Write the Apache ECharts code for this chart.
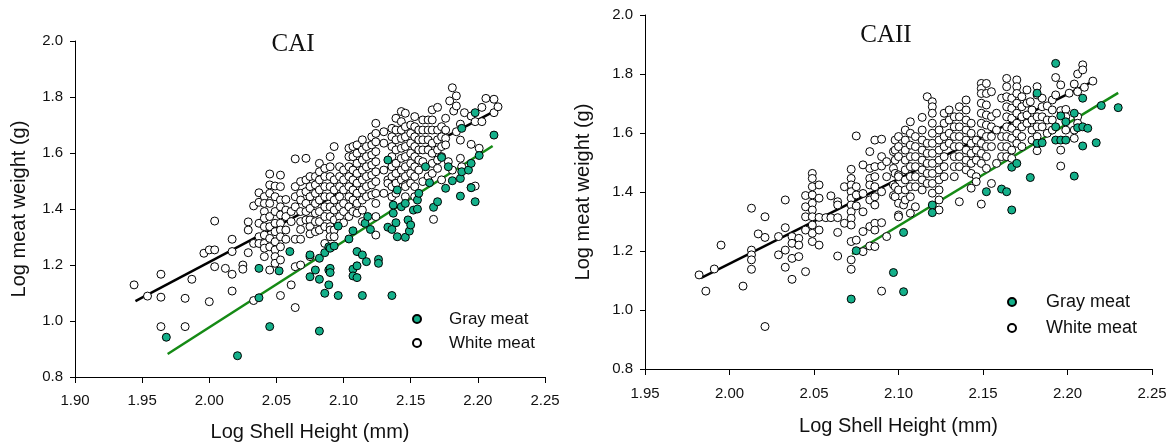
<!DOCTYPE html>
<html>
<head>
<meta charset="utf-8">
<script src="https://cdn.jsdelivr.net/npm/echarts@6/dist/echarts.min.js"></script>
<style>
  html, body { margin: 0; padding: 0; background: #fff; }
  #chart { width: 1172px; height: 444px; }
</style>
</head>
<body>
<div id="chart"></div>
<script>
// Each row: [log shell height, log meat weight, log meat weight, ...]
// (scallops of the same shell height share one row)

// ---- CAI ----
const caiWhite = [
  [1.944, 1.129], [1.954, 1.089], [1.964, 1.167, 1.085, 0.980], [1.982, 1.081, 0.980],
  [1.987, 1.149], [1.996, 1.242], [2.000, 1.254, 1.069], [2.004, 1.357, 1.254, 1.194],
  [2.012, 1.188], [2.017, 1.292, 1.248, 1.167, 1.107], [2.025, 1.200, 1.185],
  [2.029, 1.354, 1.325, 1.244], [2.033, 1.411, 1.277, 1.073],
  [2.037, 1.458, 1.424, 1.349, 1.301, 1.277],
  [2.041, 1.444, 1.420, 1.391, 1.367, 1.337, 1.307, 1.277, 1.260, 1.230],
  [2.045, 1.525, 1.486, 1.456, 1.420, 1.373, 1.337, 1.295, 1.265, 1.182],
  [2.049, 1.482, 1.444, 1.391, 1.349, 1.319, 1.283, 1.254, 1.230, 1.206],
  [2.053, 1.521, 1.480, 1.432, 1.408, 1.379, 1.349, 1.325, 1.301, 1.265, 1.218, 1.091],
  [2.057, 1.434, 1.396, 1.373, 1.325, 1.292],
  [2.061, 1.391, 1.355, 1.129],
  [2.064, 1.579, 1.480, 1.444, 1.408, 1.292, 1.194, 1.048],
  [2.068, 1.498, 1.456, 1.432, 1.391, 1.355, 1.327, 1.292, 1.200],
  [2.072, 1.581, 1.504, 1.462, 1.420, 1.391, 1.361],
  [2.075, 1.516, 1.480, 1.444, 1.402, 1.361, 1.337, 1.311, 1.230],
  [2.079, 1.516, 1.486, 1.456, 1.420, 1.385, 1.355, 1.319],
  [2.082, 1.563, 1.533, 1.504, 1.468, 1.432, 1.391, 1.355, 1.325],
  [2.086, 1.545, 1.516, 1.480, 1.444, 1.408, 1.373, 1.337, 1.277],
  [2.090, 1.587, 1.551, 1.516, 1.480, 1.444, 1.408, 1.373, 1.337, 1.325, 1.301],
  [2.093, 1.623, 1.504, 1.468, 1.432, 1.396, 1.361, 1.325, 1.301],
  [2.097, 1.551, 1.516, 1.480, 1.444, 1.408, 1.373, 1.349],
  [2.100, 1.539, 1.504, 1.468, 1.420, 1.391, 1.351],
  [2.104, 1.617, 1.587, 1.551, 1.516, 1.480, 1.444, 1.408, 1.373],
  [2.107, 1.623, 1.587, 1.539, 1.504, 1.468, 1.432, 1.391],
  [2.110, 1.629, 1.599, 1.563, 1.527, 1.492, 1.456, 1.420, 1.385],
  [2.114, 1.647, 1.611, 1.575, 1.539, 1.504, 1.468, 1.432, 1.396, 1.355],
  [2.117, 1.623, 1.587, 1.551, 1.516, 1.480, 1.444],
  [2.121, 1.658, 1.629, 1.593, 1.557, 1.521, 1.486, 1.450],
  [2.124, 1.706, 1.670, 1.640, 1.605, 1.569, 1.533, 1.498, 1.456, 1.420, 1.373, 1.307],
  [2.130, 1.676, 1.635, 1.539, 1.456],
  [2.133, 1.504, 1.492],
  [2.136, 1.688, 1.658, 1.623, 1.587, 1.551, 1.516, 1.480, 1.444],
  [2.139, 1.724, 1.682, 1.647, 1.611, 1.563, 1.527, 1.492, 1.456],
  [2.143, 1.748, 1.712, 1.682, 1.652, 1.617, 1.581, 1.539, 1.504],
  [2.146, 1.742, 1.694, 1.658, 1.623, 1.587, 1.551, 1.516, 1.486, 1.480, 1.444],
  [2.150, 1.700, 1.670, 1.635, 1.599, 1.563, 1.527, 1.492],
  [2.153, 1.730, 1.694, 1.658, 1.623, 1.587, 1.551, 1.516, 1.480, 1.444],
  [2.156, 1.682, 1.647, 1.611, 1.575, 1.539],
  [2.159, 1.718, 1.682, 1.647, 1.611, 1.569, 1.498],
  [2.163, 1.718, 1.682, 1.647, 1.611, 1.516],
  [2.166, 1.754, 1.718, 1.682, 1.635, 1.599, 1.563, 1.527],
  [2.167, 1.363],
  [2.170, 1.763, 1.682, 1.647, 1.611, 1.575, 1.545],
  [2.173, 1.694, 1.658, 1.623, 1.587, 1.504],
  [2.176, 1.724, 1.682, 1.652, 1.629],
  [2.178, 1.569], [2.179, 1.786], [2.181, 1.833, 1.539], [2.182, 1.750],
  [2.184, 1.804, 1.768, 1.676], [2.187, 1.703, 1.646, 1.581], [2.188, 1.551],
  [2.190, 1.744], [2.195, 1.732, 1.631, 1.477], [2.198, 1.712, 1.482],
  [2.201, 1.617], [2.203, 1.763, 1.712], [2.206, 1.795], [2.212, 1.792, 1.744],
  [2.215, 1.765]
];

const caiGray = [
  [1.968, 0.942], [2.021, 0.876], [2.037, 1.188, 1.083], [2.045, 0.980], [2.052, 1.179],
  [2.060, 1.248], [2.075, 1.236, 1.158], [2.079, 1.182], [2.082, 1.224, 1.149, 0.964],
  [2.086, 1.244, 1.099], [2.089, 1.265, 1.182, 1.129], [2.090, 1.260, 1.188, 1.173],
  [2.093, 1.268], [2.096, 1.339, 1.091], [2.104, 1.293], [2.107, 1.322, 1.185, 1.161],
  [2.110, 1.248, 1.197, 1.155], [2.114, 1.236, 1.091], [2.116, 1.349], [2.117, 1.212],
  [2.118, 1.373], [2.120, 1.327], [2.126, 1.220, 1.206], [2.133, 1.575, 1.335],
  [2.136, 1.327, 1.091], [2.137, 1.414, 1.385], [2.139, 1.351], [2.140, 1.468, 1.301],
  [2.143, 1.408], [2.146, 1.420, 1.299], [2.148, 1.361], [2.149, 1.321], [2.150, 1.343],
  [2.152, 1.396], [2.155, 1.432, 1.400], [2.156, 1.456], [2.161, 1.551], [2.164, 1.494],
  [2.167, 1.406], [2.170, 1.426], [2.173, 1.584], [2.176, 1.474], [2.178, 1.551],
  [2.181, 1.501], [2.187, 1.509, 1.446], [2.188, 1.688, 1.533], [2.193, 1.539],
  [2.195, 1.563, 1.476], [2.198, 1.744, 1.426], [2.201, 1.591], [2.212, 1.664]
];

// ---- CAII ----
const caiiWhite = [
  [1.982, 1.119], [1.986, 1.064], [1.991, 1.139], [1.995, 1.220], [2.008, 1.081],
  [2.013, 1.345, 1.203, 1.187, 1.170, 1.138], [2.017, 1.258], [2.021, 1.316, 1.246, 0.944],
  [2.029, 1.249, 1.187], [2.033, 1.373, 1.279, 1.203, 1.145],
  [2.037, 1.249, 1.226, 1.175, 1.104], [2.041, 1.243, 1.220, 1.181],
  [2.045, 1.388, 1.350, 1.316, 1.271, 1.130],
  [2.049, 1.463, 1.446, 1.418, 1.390, 1.362, 1.339, 1.316, 1.288, 1.260, 1.232],
  [2.053, 1.424, 1.379, 1.314, 1.271, 1.220], [2.057, 1.313], [2.060, 1.387, 1.313],
  [2.064, 1.367, 1.356, 1.313, 1.263, 1.183], [2.068, 1.418, 1.294],
  [2.072, 1.477, 1.446, 1.424, 1.401, 1.379, 1.356, 1.333, 1.311, 1.288, 1.232, 1.170, 1.138],
  [2.075, 1.590, 1.418, 1.390, 1.353, 1.237],
  [2.079, 1.492, 1.395, 1.333, 1.266, 1.198],
  [2.083, 1.537, 1.480, 1.446, 1.424, 1.373, 1.283, 1.217],
  [2.086, 1.576, 1.486, 1.452, 1.418, 1.384, 1.356, 1.294, 1.271, 1.215],
  [2.090, 1.579, 1.520, 1.488, 1.401, 1.296, 1.064],
  [2.093, 1.503, 1.452, 1.249], [2.097, 1.537, 1.480, 1.424, 1.388],
  [2.098, 1.576, 1.542, 1.508, 1.463, 1.418, 1.384],
  [2.100, 1.588, 1.554, 1.520, 1.458, 1.452, 1.407, 1.362, 1.322, 1.316],
  [2.103, 1.356],
  [2.104, 1.610, 1.576, 1.542, 1.508, 1.475, 1.441, 1.407, 1.373],
  [2.107, 1.638, 1.599, 1.559, 1.520, 1.486, 1.452, 1.418, 1.384, 1.328],
  [2.110, 1.588, 1.554, 1.520, 1.486, 1.452, 1.418, 1.350],
  [2.114, 1.653, 1.610, 1.576, 1.542, 1.508, 1.475, 1.441, 1.407],
  [2.117, 1.723, 1.565, 1.531, 1.497, 1.463, 1.429],
  [2.120, 1.706, 1.689, 1.667, 1.633, 1.599, 1.565, 1.531, 1.497, 1.463, 1.429, 1.396],
  [2.124, 1.610, 1.576, 1.542, 1.508, 1.475, 1.441, 1.407, 1.373, 1.339],
  [2.127, 1.667, 1.633, 1.588, 1.554, 1.520, 1.486, 1.452],
  [2.130, 1.678, 1.644, 1.599, 1.565],
  [2.133, 1.655, 1.621, 1.588, 1.554, 1.520, 1.486, 1.452],
  [2.136, 1.689, 1.655, 1.621, 1.588, 1.554, 1.520, 1.486, 1.367],
  [2.140, 1.712, 1.678, 1.644, 1.610, 1.576, 1.542, 1.508, 1.475],
  [2.143, 1.633, 1.599, 1.565, 1.531, 1.497, 1.463, 1.413],
  [2.146, 1.576, 1.542, 1.508, 1.452, 1.435],
  [2.149, 1.768, 1.751, 1.734, 1.701, 1.667, 1.633, 1.599, 1.565, 1.531, 1.497, 1.359],
  [2.152, 1.768, 1.734, 1.695, 1.661, 1.627, 1.588, 1.554, 1.520, 1.480],
  [2.155, 1.740, 1.655, 1.621, 1.588, 1.554, 1.429],
  [2.158, 1.667, 1.610, 1.497], [2.161, 1.718, 1.588, 1.554, 1.520],
  [2.164, 1.785, 1.757, 1.723, 1.689, 1.655, 1.621, 1.588, 1.554, 1.520],
  [2.167, 1.718, 1.684, 1.650, 1.616, 1.582, 1.542, 1.514],
  [2.170, 1.780, 1.757, 1.734, 1.701, 1.667, 1.633, 1.599, 1.565],
  [2.173, 1.723, 1.689, 1.655, 1.621, 1.588, 1.554],
  [2.176, 1.746, 1.701, 1.661, 1.633], [2.178, 1.706],
  [2.179, 1.678, 1.644, 1.610, 1.576], [2.182, 1.757, 1.729, 1.655, 1.621, 1.588, 1.540],
  [2.185, 1.718, 1.689, 1.655, 1.621], [2.188, 1.692, 1.644, 1.599],
  [2.191, 1.712, 1.678, 1.644, 1.610], [2.193, 1.788, 1.729],
  [2.196, 1.763, 1.676, 1.542, 1.488], [2.199, 1.680, 1.655, 1.610],
  [2.201, 1.735], [2.204, 1.766, 1.610, 1.582], [2.206, 1.800, 1.740, 1.655, 1.633],
  [2.209, 1.831, 1.814], [2.210, 1.755], [2.215, 1.776]
];

const caiiGray = [
  [2.072, 1.037], [2.075, 1.201], [2.097, 1.127], [2.103, 1.263, 1.062], [2.120, 1.356, 1.330],
  [2.152, 1.401], [2.161, 1.410], [2.164, 1.401], [2.167, 1.484, 1.339], [2.170, 1.497],
  [2.178, 1.449], [2.182, 1.735, 1.565], [2.185, 1.567], [2.193, 1.836, 1.621, 1.576],
  [2.196, 1.658, 1.576], [2.199, 1.638, 1.576], [2.204, 1.667, 1.454], [2.206, 1.618],
  [2.209, 1.718, 1.621, 1.556], [2.212, 1.616], [2.217, 1.567], [2.220, 1.693], [2.230, 1.686]
];

// Fitted regression lines (end points)
const caiWhiteFit  = [[1.945, 1.071], [2.211, 1.746]];
const caiGrayFit   = [[1.969, 0.882], [2.211, 1.625]];
const caiiWhiteFit = [[1.983, 1.108], [2.213, 1.769]];
const caiiGrayFit  = [[2.0725, 1.190], [2.230, 1.736]];

const legendNames = ['Gray meat', 'White meat'];
const panelTitles = ['CAI', 'CAII'];

function expand(rows) {
  const pts = [];
  rows.forEach(r => r.slice(1).forEach(y => pts.push([r[0], y])));
  return pts;
}

const SANS = 'Liberation Sans, Arial, sans-serif';
const SERIF = 'Liberation Serif, Times New Roman, serif';
const GRAY_FILL = '#14b08a';
const GREEN_LINE = '#158a15';

function xAxisFor(grid, min, gap, labelMargin) {
  return {
    type: 'value', gridIndex: grid, min: min, max: 2.25, interval: 0.05,
    name: 'Log Shell Height (mm)', nameLocation: 'middle', nameGap: gap,
    nameTextStyle: { fontFamily: SANS, fontSize: 20, color: '#111' },
    axisLine: { show: true, onZero: false, lineStyle: { color: '#000', width: 1 } },
    axisTick: { show: true, inside: false, length: 6, lineStyle: { color: '#000' } },
    axisLabel: { fontFamily: SANS, fontSize: 15, color: '#111', margin: labelMargin,
      formatter: v => v.toFixed(2) },
    splitLine: { show: false }
  };
}
function yAxisFor(grid, gap) {
  return {
    type: 'value', gridIndex: grid, min: 0.8, max: 2.0, interval: 0.2,
    name: 'Log meat weight (g)', nameLocation: 'middle', nameGap: gap, nameRotate: 90,
    nameTextStyle: { fontFamily: SANS, fontSize: 20, color: '#111' },
    axisLine: { show: true, onZero: false, lineStyle: { color: '#000', width: 1 } },
    axisTick: { show: true, inside: false, length: 5, lineStyle: { color: '#000' } },
    axisLabel: { fontFamily: SANS, fontSize: 15, color: '#111', margin: 12,
      formatter: v => v.toFixed(1) },
    splitLine: { show: false }
  };
}
function fitLine(data, idx, color) {
  return {
    type: 'line', name: 'fit', data: data, xAxisIndex: idx, yAxisIndex: idx,
    symbol: 'none', silent: true, z: 1,
    lineStyle: { color: color, width: 2.5 }
  };
}
function pointSeries(name, rows, idx, fill) {
  return {
    type: 'scatter', name: name, data: expand(rows), xAxisIndex: idx, yAxisIndex: idx,
    symbol: 'circle', symbolSize: 8, z: 3,
    itemStyle: { color: fill, borderColor: '#000', borderWidth: 1, opacity: 1 },
    emphasis: { disabled: true }
  };
}
function legendAt(left, top, size, gap, pad) {
  return {
    orient: 'vertical', left: left, top: top, padding: 0, itemGap: gap,
    itemWidth: 8, itemHeight: 8, icon: 'circle', selectedMode: false,
    data: legendNames,
    textStyle: { fontFamily: SANS, fontSize: size, color: '#111', lineHeight: 18,
      padding: [0, 0, 0, pad] }
  };
}

const chart = echarts.init(document.getElementById('chart'), null, { renderer: 'canvas' });
chart.setOption({
  animation: false,
  backgroundColor: '#fff',
  grid: [
    { left: 75, top: 41, width: 470, height: 336, outerBoundsMode: 'none', containLabel: false },
    { left: 645, top: 15, width: 507, height: 354, outerBoundsMode: 'none', containLabel: false }
  ],
  xAxis: [xAxisFor(0, 1.9, 45, 16), xAxisFor(1, 1.95, 47, 17)],
  yAxis: [yAxisFor(0, 46), yAxisFor(1, 52)],
  legend: [legendAt(412, 310, 17, 6, 23), legendAt(1007, 293, 18, 8, 25)],
  graphic: [
    { type: 'text', x: 293, y: 44, style: { text: panelTitles[0], fontFamily: SERIF,
      fontSize: 25, fill: '#111', textAlign: 'center', textVerticalAlign: 'middle' } },
    { type: 'text', x: 886, y: 35, style: { text: panelTitles[1], fontFamily: SERIF,
      fontSize: 25, fill: '#111', textAlign: 'center', textVerticalAlign: 'middle' } }
  ],
  series: [
    fitLine(caiWhiteFit, 0, '#000'),
    fitLine(caiGrayFit, 0, GREEN_LINE),
    pointSeries('White meat', caiWhite, 0, '#fff'),
    pointSeries('Gray meat', caiGray, 0, GRAY_FILL),
    fitLine(caiiWhiteFit, 1, '#000'),
    fitLine(caiiGrayFit, 1, GREEN_LINE),
    pointSeries('White meat', caiiWhite, 1, '#fff'),
    pointSeries('Gray meat', caiiGray, 1, GRAY_FILL)
  ]
});
</script>
</body>
</html>
